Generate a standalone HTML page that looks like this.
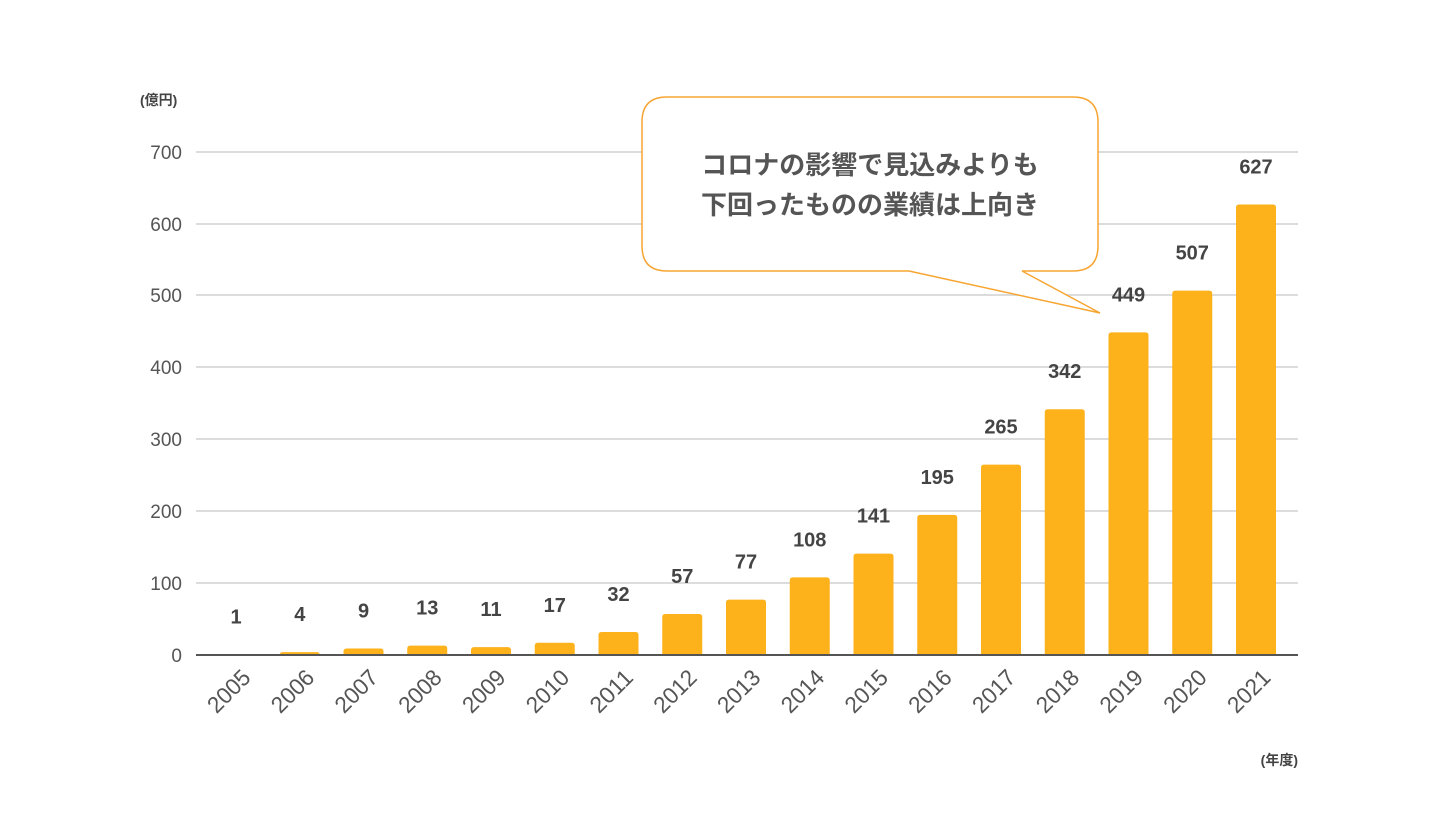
<!DOCTYPE html><html><head><meta charset="utf-8"><style>body{margin:0;background:#fff}</style></head><body>
<svg width="1440" height="810" xmlns="http://www.w3.org/2000/svg" font-family="Liberation Sans, Noto Sans CJK JP, sans-serif">
<g stroke="#dcdcdc" stroke-width="2">
<line x1="196" x2="1298" y1="152" y2="152"/><line x1="196" x2="1298" y1="224" y2="224"/><line x1="196" x2="1298" y1="295" y2="295"/><line x1="196" x2="1298" y1="367" y2="367"/><line x1="196" x2="1298" y1="439" y2="439"/><line x1="196" x2="1298" y1="511" y2="511"/><line x1="196" x2="1298" y1="583" y2="583"/>
</g>
<g fill="#555" font-size="19" text-anchor="end">
<text x="182" y="159">700</text><text x="182" y="231">600</text><text x="182" y="302">500</text><text x="182" y="374">400</text><text x="182" y="446">300</text><text x="182" y="518">200</text><text x="182" y="590">100</text><text x="182" y="662">0</text>
</g>
<text x="140" y="105" font-size="14" fill="#444" font-weight="bold">(億円)</text>
<text x="1298" y="765" font-size="14" fill="#444" font-weight="bold" text-anchor="end">(年度)</text>
<g id="bars"></g>
<line x1="196" x2="1298" y1="655" y2="655" stroke="#555" stroke-width="2"/>
<path d="M667,97 H1073 Q1098,97 1098,122 V246 Q1098,271 1073,271 H1022 L1100,313 L909,271 H667 Q642,271 642,246 V122 Q642,97 667,97 Z" fill="#fff" stroke="#f7a531" stroke-width="1.5"/>
<text x="870" y="174" font-size="26" font-weight="bold" fill="#555" text-anchor="middle">コロナの影響で見込みよりも</text>
<text x="870" y="214" font-size="26" font-weight="bold" fill="#555" text-anchor="middle">下回ったものの業績は上向き</text>
</svg>
<script>
var v=[1,4,9,13,11,17,32,57,77,108,141,195,265,342,449,507,627],s='';
for(var i=0;i<17;i++){var c=236+i*63.75,h=v[i]*0.7186,t=655-h;
s+='<path d="M'+(c-20)+',655 V'+(t+Math.min(3,h))+' Q'+(c-20)+','+t+' '+(c-17)+','+t+' H'+(c+17)+' Q'+(c+20)+','+t+' '+(c+20)+','+(t+Math.min(3,h))+' V655 Z" fill="#fdb11b"/>';
s+='<text x="'+c+'" y="'+(t-31)+'" font-size="20" font-weight="bold" fill="#444" text-anchor="middle">'+v[i]+'</text>';
s+='<text transform="translate('+(c+16)+',679) rotate(-45)" font-size="23" fill="#555" text-anchor="end" textLength="50" lengthAdjust="spacingAndGlyphs">'+(2005+i)+'</text>';}
document.getElementById('bars').innerHTML=s;
</script>
</body></html>
